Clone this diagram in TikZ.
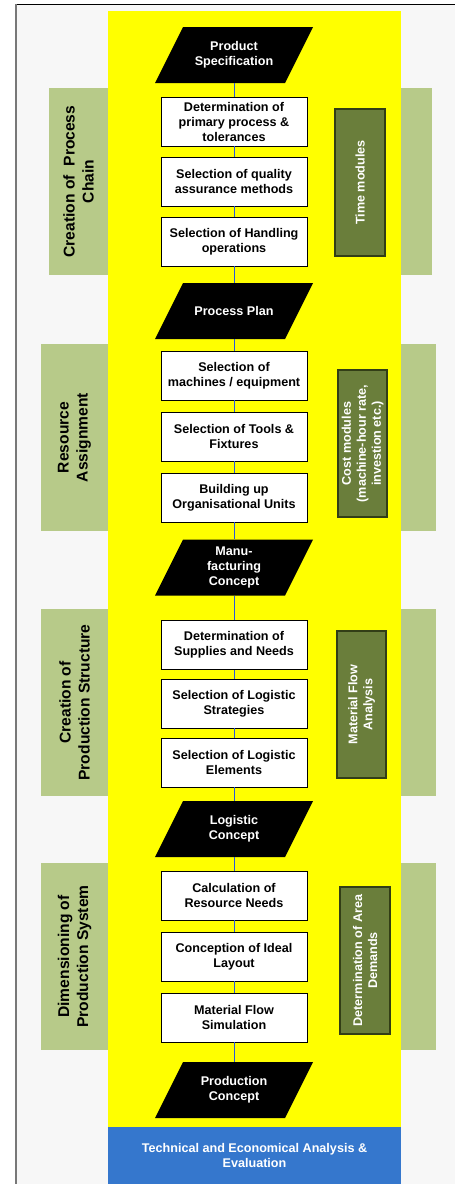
\documentclass[tikz,border=0pt]{standalone}
\usepackage{fontspec}
\setmainfont{Liberation Sans}
\definecolor{pagegray}{RGB}{247,247,247}
\definecolor{framegray}{RGB}{120,120,120}
\definecolor{sagegreen}{RGB}{183,202,137}
\definecolor{olivegreen}{RGB}{106,126,59}
\definecolor{olivedark}{RGB}{50,62,22}
\definecolor{flowyellow}{RGB}{255,255,0}
\definecolor{evalblue}{RGB}{53,119,205}
\definecolor{linkblue}{RGB}{40,90,220}

\begin{document}
\begin{tikzpicture}[x=1pt,y=-1pt,
  every node/.style={font=\bfseries\fontsize{12.6}{15}\selectfont, align=center, inner sep=0pt},
  stepbox/.style={rectangle, draw=black, line width=0.9pt, fill=white,
    minimum width=146, minimum height=49},
  dataform/.style={rectangle, text=white, minimum width=130, minimum height=56},
  phase/.style={rectangle, fill=sagegreen, rotate=90,
    font=\bfseries\fontsize{15.6}{19}\selectfont},
  module/.style={rectangle, fill=olivegreen, draw=olivedark, line width=1.2pt,
    text=white, rotate=90, minimum width=147},
  link/.style={draw=linkblue, line width=0.7pt}
]
\useasboundingbox (0,0) rectangle (455,1184);

% page background and frame
\fill[pagegray] (15,4) rectangle (455,1184);
\draw[black, line width=1pt] (15,4.3) -- (455,4.3);
\draw[framegray, line width=2pt] (16,4) -- (16,1184);

% phase bands on the right side
\fill[sagegreen] (401,88) rectangle (432,275);
\fill[sagegreen] (401,344) rectangle (436,531);
\fill[sagegreen] (401,609) rectangle (436,796);
\fill[sagegreen] (401,863) rectangle (436,1050);

% phase labels on the left side
\node[phase, minimum width=187, minimum height=59] (ph1) at (78.5,181.5) {Creation of~~Process\\Chain};
\node[phase, minimum width=187, minimum height=67] (ph2) at (74.5,437.5) {Resource\\Assignment};
\node[phase, minimum width=187, minimum height=67] (ph3) at (74.5,702.5) {Creation of\\Production Structure};
\node[phase, minimum width=187, minimum height=67] (ph4) at (74.5,956.5) {Dimensioning of\\Production System};

% central process column
\fill[flowyellow] (108,11) rectangle (401,1127);
\node[fill=evalblue, text=white, minimum width=293, minimum height=57] (ev) at (254.5,1155.5)
  {Technical and Economical Analysis \&\\Evaluation};

% supporting modules
\node[module, minimum height=50] (m1) at (360,182.5) {Time modules};
\node[module, minimum height=49] (m2) at (362.5,443.5) {Cost modules\\(machine-hour rate,\\investion etc.)};
\node[module, minimum height=49] (m3) at (361.5,704.5) {Material Flow\\Analysis};
\node[module, minimum height=50] (m4) at (365,960.5) {Determination of Area\\Demands};

% document symbols (parallelograms) behind their labels
\foreach \yc in {55,311,567.5,829,1090}
  \fill[black] (155,\yc+28) -- (285,\yc+28) -- (313,\yc-28) -- (183,\yc-28) -- cycle;

% documents and steps
\node[dataform] (p1) at (234,55) {Product\\Specification};
\node[stepbox] (a1) at (234,121.5) {Determination of\\primary process \&\\tolerances};
\node[stepbox] (a2) at (234,181.5) {Selection of quality\\assurance methods};
\node[stepbox] (a3) at (234,241.5) {Selection of Handling\\operations};
\node[dataform] (p2) at (234,311) {Process Plan};
\node[stepbox] (b1) at (234,375.5) {Selection of\\machines / equipment};
\node[stepbox] (b2) at (234,436.5) {Selection of Tools \&\\Fixtures};
\node[stepbox] (b3) at (234,497.5) {Building up\\Organisational Units};
\node[dataform] (p3) at (234,567.5) {Manu-\\facturing\\Concept};
\node[stepbox] (c1) at (234,645) {Determination of\\Supplies and Needs};
\node[stepbox] (c2) at (234,703.5) {Selection of Logistic\\Strategies};
\node[stepbox] (c3) at (234,762.5) {Selection of Logistic\\Elements};
\node[dataform] (p4) at (234,829) {Logistic\\Concept};
\node[stepbox] (d1) at (234,895.5) {Calculation of\\Resource Needs};
\node[stepbox] (d2) at (234,956.5) {Conception of Ideal\\Layout};
\node[stepbox] (d3) at (234,1017.5) {Material Flow\\Simulation};
\node[dataform] (p5) at (234,1090) {Production\\Concept};

% connectors
\foreach \u/\v in {p1/a1,a1/a2,a2/a3,a3/p2,p2/b1,b1/b2,b2/b3,b3/p3,p3/c1,c1/c2,c2/c3,c3/p4,p4/d1,d1/d2,d2/d3,d3/p5}
  \draw[link] (\u) -- (\v);
\end{tikzpicture}
\end{document}
